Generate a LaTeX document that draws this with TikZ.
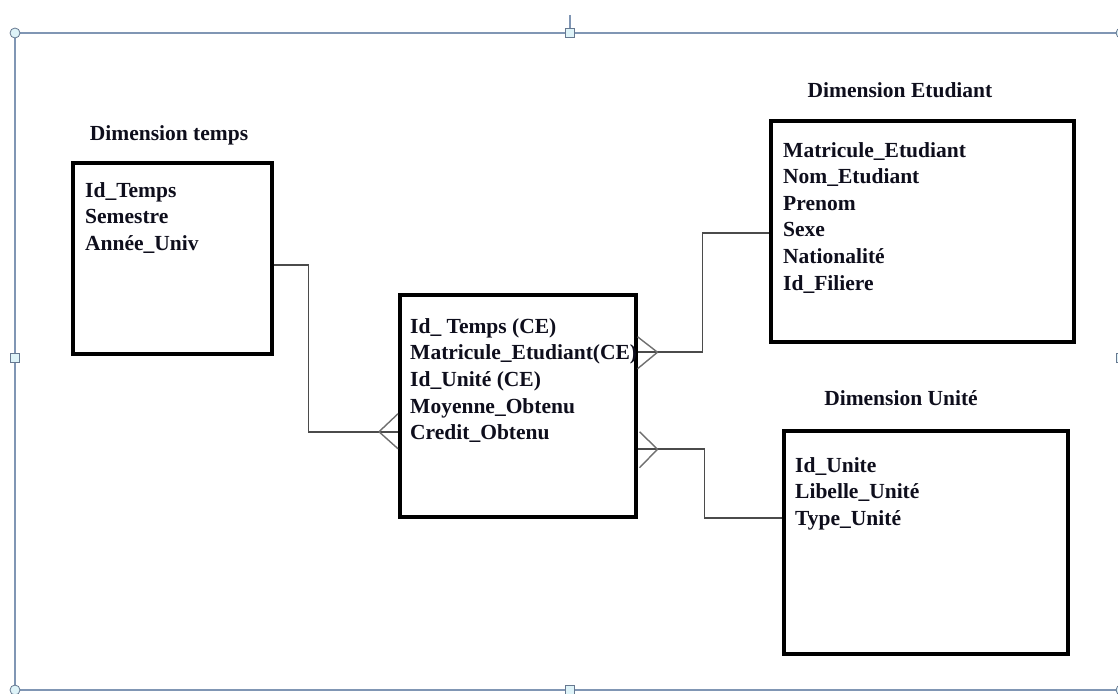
\documentclass[tikz,border=0pt]{standalone}
\usepackage{fontspec}
\setmainfont{Liberation Serif}
\usetikzlibrary{calc}
\definecolor{framecol}{RGB}{128,150,180}
\definecolor{handlefill}{RGB}{222,243,248}
\definecolor{linkcol}{RGB}{75,75,75}
\definecolor{inkcol}{RGB}{14,14,28}
\begin{document}
\begin{tikzpicture}[x=1pt,y=-1pt,
  table/.style={draw=black,line width=3.5pt,fill=white,inner sep=0pt,anchor=north west},
  field/.style={anchor=base west,inner sep=0pt,text=inkcol,font=\fontsize{21.5}{26}\bfseries},
  title/.style={anchor=base,inner sep=0pt,text=inkcol,font=\fontsize{21.5}{26}\bfseries},
  link/.style={draw=linkcol,line width=1.8pt},
  foot/.style={draw=linkcol!80,line width=1.4pt},
  selframe/.style={draw=framecol,line width=1.4pt},
  roundhandle/.style={draw=framecol!80!black,fill=handlefill,line width=0.8pt},
  squarehandle/.style={draw=framecol!80!black,fill=handlefill,line width=0.8pt}]
\useasboundingbox (0,0) rectangle (1118,693);

% selection frame with its handles
\draw[selframe] (15,33) rectangle (1121,690);
\draw[selframe] (570,15) -- (570,28);
\foreach \hx/\hy in {15/33,15/690,1121/33,1121/690}
  \draw[roundhandle] (\hx,\hy) circle (5);
\foreach \hx/\hy in {570/33,15/358,570/690,1121/358}
  \draw[squarehandle] (\hx-4.5,\hy-4.5) rectangle (\hx+4.5,\hy+4.5);

% tables
\node[table,minimum width=199pt,minimum height=191pt] (temps) at (71,161) {};
\node[table,minimum width=236pt,minimum height=222pt] (fact) at (398,293) {};
\node[table,minimum width=303pt,minimum height=221pt] (etud) at (769,119) {};
\node[table,minimum width=284pt,minimum height=223pt] (unite) at (782,429) {};

% titles
\node[title] (ttemps) at (169,140) {Dimension temps};
\node[title] (tetud) at (900,97) {Dimension Etudiant};
\node[title] (tunite) at (901,405) {Dimension Unité};

% fields
\foreach \t [count=\i] in {Id\_Temps,Semestre,Année\_Univ}
  \node[field] (ft\i) at (85,{197+26.7*(\i-1)}) {\t};
\foreach \t [count=\i] in {Id\_ Temps (CE),Matricule\_Etudiant(CE),Id\_Unité (CE),Moyenne\_Obtenu,Credit\_Obtenu}
  \node[field] (ff\i) at (410,{333+26.7*(\i-1)}) {\t};
\foreach \t [count=\i] in {Matricule\_Etudiant,Nom\_Etudiant,Prenom,Sexe,Nationalité,Id\_Filiere}
  \node[field] (fe\i) at (783,{157+26.6*(\i-1)}) {\t};
\foreach \t [count=\i] in {Id\_Unite,Libelle\_Unité,Type\_Unité}
  \node[field] (fu\i) at (795,{472+26.8*(\i-1)}) {\t};

% relationships
\draw[link] ($(temps.east)+(0,7)$) -| ($(temps.east)+(35,7)$)
  |- ($(fact.west)+(0,26.5)$);
\draw[foot] ($(fact.west)+(-19,26)$) -- ($(fact.west)+(0,8)$);
\draw[foot] ($(fact.west)+(-19,26)$) -- ($(fact.west)+(0,43)$);

\draw[link] ($(fact.east)+(0,-53.5)$) -- ($(fact.east)+(65,-53.5)$)
  |- ($(etud.west)+(0,1.5)$);
\draw[foot] ($(fact.east)+(20,-53.5)$) -- ($(fact.east)+(0,-69)$);
\draw[foot] ($(fact.east)+(20,-53.5)$) -- ($(fact.east)+(0,-37)$);

\draw[link] ($(fact.east)+(0,43.5)$) -- ($(fact.east)+(67,43.5)$)
  |- ($(unite.west)+(0,-24.5)$);
\draw[foot] ($(fact.east)+(20,43.5)$) -- ($(fact.east)+(2,26)$);
\draw[foot] ($(fact.east)+(20,43.5)$) -- ($(fact.east)+(2,62)$);
\end{tikzpicture}
\end{document}
